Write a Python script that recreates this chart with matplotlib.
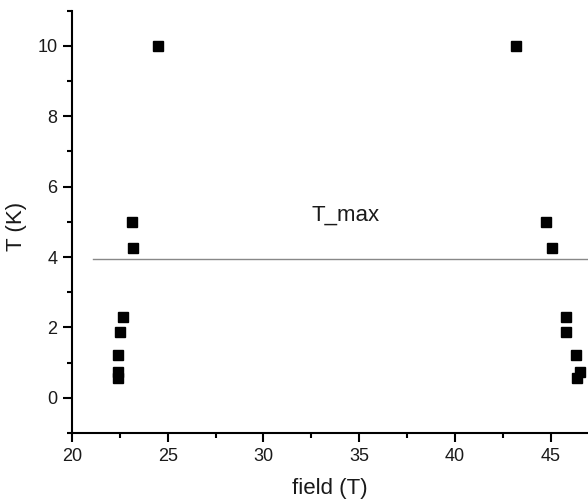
import numpy as np
import matplotlib
matplotlib.use("Agg")
import matplotlib.pyplot as plt
from matplotlib.ticker import MultipleLocator

plt.rcParams['font.family'] = ['Liberation Sans', 'DejaVu Sans']

# low-field branch
field_lo = [24.5, 23.15, 23.2, 22.65, 22.5, 22.42, 22.42, 22.38]
T_lo = [10.0, 5.0, 4.25, 2.3, 1.86, 1.21, 0.73, 0.57]
# high-field branch
field_hi = [43.2, 44.75, 45.05, 45.8, 45.8, 46.3, 46.55, 46.4]
T_hi = [10.0, 5.0, 4.25, 2.3, 1.86, 1.21, 0.73, 0.57]

T_max = 3.94

fig = plt.figure(figsize=(5.88, 4.99), dpi=100)
ax = fig.add_axes([72/588, 1 - 433/499, 1 - 72/588, (433 - 10.7)/499])

ax.plot(field_lo, T_lo, 's', color='black', markersize=7, clip_on=False)
ax.plot(field_hi, T_hi, 's', color='black', markersize=7, clip_on=False)
ax.plot([21.1, 47], [T_max, T_max], color='#888888', linewidth=1)
ax.text(34.3, 5.2, 'T_max', fontsize=16, ha='center', va='center', color='#1a1a1a')

ax.set_xlim(20, 46.95)
ax.set_ylim(-1, 11)
ax.xaxis.set_major_locator(MultipleLocator(5))
ax.xaxis.set_minor_locator(MultipleLocator(2.5))
ax.yaxis.set_major_locator(MultipleLocator(2))
ax.yaxis.set_minor_locator(MultipleLocator(1))

for s in ['top', 'right']:
    ax.spines[s].set_visible(False)
for s in ['left', 'bottom']:
    ax.spines[s].set_linewidth(1.5)

ax.tick_params(which='major', direction='out', length=6.5, width=1.5, labelsize=13,
               colors='black', labelcolor='#1a1a1a', pad=4)
ax.tick_params(which='minor', direction='out', length=3.6, width=1.5)

ax.set_xlabel('field (T)', fontsize=16, color='#1a1a1a', labelpad=10)
ax.set_ylabel('T (K)', fontsize=16, color='#1a1a1a')
ax.yaxis.set_label_coords(-0.087, 0.49)

fig.savefig('out.png', dpi=100)
